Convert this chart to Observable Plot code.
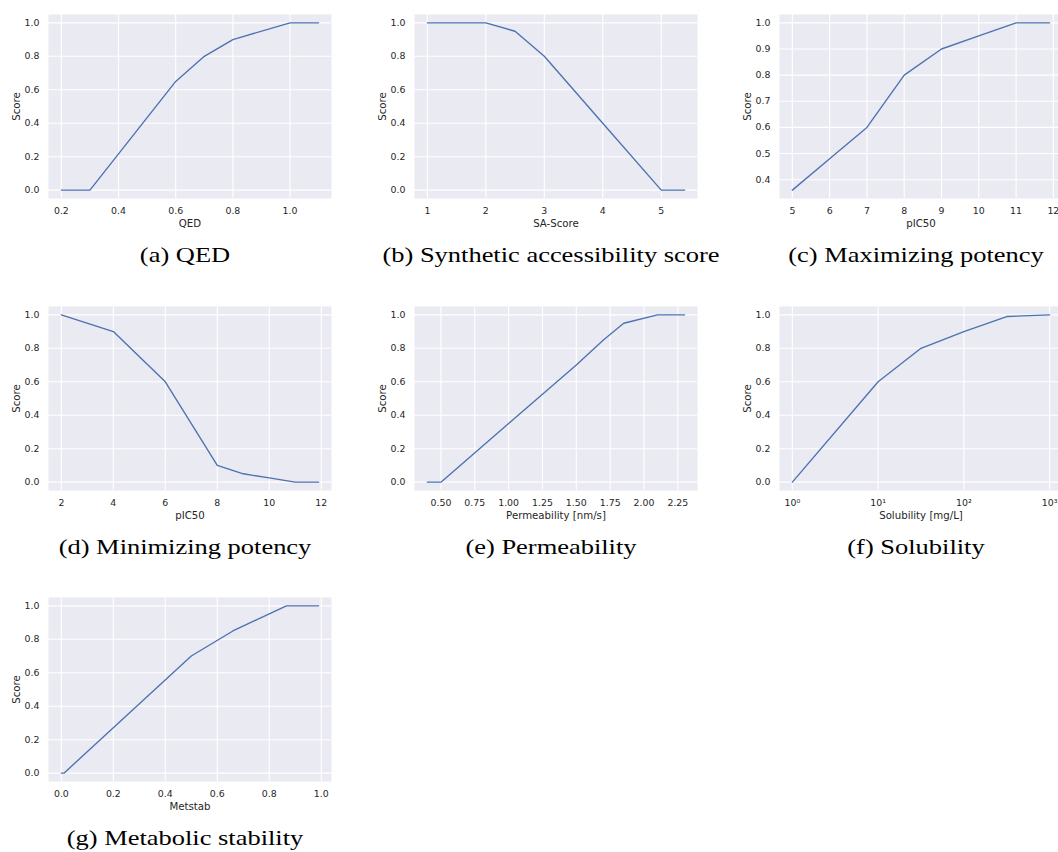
<!DOCTYPE html>
<html>
<head>
<meta charset="utf-8">
<script src="https://cdn.jsdelivr.net/npm/d3@7"></script>
<script src="https://cdn.jsdelivr.net/npm/@observablehq/plot@0.6"></script>
<style>
  html, body { margin: 0; padding: 0; background: #fff; }
  body { width: 1058px; height: 852px; overflow: hidden; position: relative; }
  #root { position: relative; width: 1058px; height: 852px; overflow: hidden; }
  .panel { position: absolute; }
  .panel svg { overflow: visible; max-width: none !important; display: block; }
  .cap {
    position: absolute; white-space: nowrap; color: #000;
    font-family: "Liberation Serif", serif; font-size: 21.5px; line-height: 1;
    transform-origin: 50% 50%; transform: translateX(-50%) scaleX(1.23);
  }
</style>
</head>
<body>
<div id="root"></div>
<script>
// ---------------- data ----------------
const scoreTicks = [0, 0.2, 0.4, 0.6, 0.8, 1.0];

const qedX = [0.2, 0.3, 0.6, 0.7, 0.8, 1.0, 1.1];
const qedScore = [0, 0, 0.65, 0.8, 0.9, 1.0, 1.0];
const qedTicks = [0.2, 0.4, 0.6, 0.8, 1.0];

const saX = [1, 2, 2.5, 3, 4, 5, 5.4];
const saScore = [1, 1, 0.95, 0.8, 0.4, 0, 0];
const saTicks = [1, 2, 3, 4, 5];

const maxPotX = [5, 6, 7, 8, 9, 10, 11, 11.9];
const maxPotScore = [0.36, 0.48, 0.6, 0.8, 0.9, 0.95, 1.0, 1.0];
const maxPotTicks = [5, 6, 7, 8, 9, 10, 11, 12];
const maxPotScoreTicks = [0.4, 0.5, 0.6, 0.7, 0.8, 0.9, 1.0];

const minPotX = [2, 4, 6, 8, 9, 10, 11, 11.9];
const minPotScore = [1.0, 0.9, 0.6, 0.1, 0.05, 0.025, 0, 0];
const minPotTicks = [2, 4, 6, 8, 10, 12];

const permX = [0.4, 0.5, 1.0, 1.5, 1.7, 1.85, 2.1, 2.3];
const permScore = [0, 0, 0.35, 0.7, 0.85, 0.95, 1.0, 1.0];
const permTicks = [0.5, 0.75, 1.0, 1.25, 1.5, 1.75, 2.0, 2.25];

const solX = [1, 10, 31.6, 100, 316, 1000];
const solScore = [0, 0.6, 0.8, 0.9, 0.99, 1.0];
const solTicks = [1, 10, 100, 1000];

const metX = [0, 0.01, 0.5, 0.66, 0.866, 0.99];
const metScore = [0, 0, 0.7, 0.85, 1.0, 1.0];
const metTicks = [0, 0.2, 0.4, 0.6, 0.8, 1.0];

const captions = ["(a) QED", "(b) Synthetic accessibility score", "(c) Maximizing potency",
  "(d) Minimizing potency", "(e) Permeability", "(f) Solubility", "(g) Metabolic stability"];

// ---------------- layout ----------------
const colLeft = [47.7, 413.6, 778.8];
const rowTop = [14, 305.6, 597];
const capBaseline = [263.3, 555.3, 846.4];
const capCenterShift = -4.5;
const FW = 283, FH = 184;
const mL = 50, mR = 10, mT = 6, mB = 40;

const sup = {"0": "\u2070", "1": "\u00b9", "2": "\u00b2", "3": "\u00b3"};
const f1 = d3.format(".1f"), f2 = d3.format(".2f"), fd = d3.format("d");
const logFmt = d => "10" + String(Math.round(Math.log10(d))).split("").map(c => sup[c]).join("");

const specs = [
  {xs: qedX, ys: qedScore, xTicks: qedTicks, yTicks: scoreTicks, xFmt: f1, xLabel: "QED"},
  {xs: saX, ys: saScore, xTicks: saTicks, yTicks: scoreTicks, xFmt: fd, xLabel: "SA-Score"},
  {xs: maxPotX, ys: maxPotScore, xTicks: maxPotTicks, yTicks: maxPotScoreTicks, xFmt: fd, xLabel: "pIC50"},
  {xs: minPotX, ys: minPotScore, xTicks: minPotTicks, yTicks: scoreTicks, xFmt: fd, xLabel: "pIC50"},
  {xs: permX, ys: permScore, xTicks: permTicks, yTicks: scoreTicks, xFmt: f2, xLabel: "Permeability [nm/s]"},
  {xs: solX, ys: solScore, xTicks: solTicks, yTicks: scoreTicks, xFmt: logFmt, xLabel: "Solubility [mg/L]", log: true},
  {xs: metX, ys: metScore, xTicks: metTicks, yTicks: scoreTicks, xFmt: f1, xLabel: "Metstab"}
];

function padDomain(vals, log) {
  const t = log ? vals.map(Math.log10) : vals;
  const lo = d3.min(t), hi = d3.max(t), p = (hi - lo) * 0.05;
  const d = [lo - p, hi + p];
  return log ? d.map(v => Math.pow(10, v)) : d;
}

const root = document.getElementById("root");
const textColor = "#262626";
const W = mL + FW + mR, H = mT + FH + mB;

specs.forEach((s, i) => {
  const col = i % 3, row = Math.floor(i / 3);
  const data = s.xs.map((x, k) => ({x, y: s.ys[k]}));
  const chart = Plot.plot({
    width: W,
    height: H,
    marginLeft: mL, marginRight: mR, marginTop: mT, marginBottom: mB,
    style: {fontFamily: "DejaVu Sans", fontSize: "9.4px", color: textColor, background: "none", overflow: "visible", maxWidth: "none"},
    x: {type: s.log ? "log" : "linear", domain: padDomain(s.xs, s.log)},
    y: {domain: padDomain(s.ys, false)},
    marks: [
      Plot.frame({fill: "#eaeaf2", stroke: null}),
      Plot.gridX(s.xTicks, {stroke: "#ffffff", strokeOpacity: 1, strokeWidth: 1.1}),
      Plot.gridY(s.yTicks, {stroke: "#ffffff", strokeOpacity: 1, strokeWidth: 1.1}),
      Plot.line(data, {x: "x", y: "y", stroke: "#4c72b0", strokeWidth: 1.35}),
      Plot.axisX(s.xTicks, {tickSize: 0, tickPadding: 9.2, tickFormat: s.xFmt, label: null, fill: textColor}),
      Plot.axisY(s.yTicks, {tickSize: 0, tickPadding: 9, tickFormat: f1, label: null, fill: textColor}),
      Plot.axisX([], {tickSize: 0, label: s.xLabel, labelAnchor: "center", labelArrow: "none", labelOffset: 28.8, fontSize: 10.2, fill: textColor}),
      Plot.axisY([], {tickSize: 0, label: "Score", labelAnchor: "center", labelArrow: "none", labelOffset: 35.3, fontSize: 10.2, fill: textColor})
    ]
  });
  chart.setAttribute("width", W);
  chart.setAttribute("height", H);
  chart.style.width = W + "px";
  chart.style.height = H + "px";
  chart.style.maxWidth = "none";
  const div = document.createElement("div");
  div.className = "panel";
  div.style.left = (colLeft[col] - mL) + "px";
  div.style.top = (rowTop[row] - mT) + "px";
  div.style.width = W + "px";
  div.style.height = H + "px";
  div.appendChild(chart);
  root.appendChild(div);

  const cap = document.createElement("div");
  cap.className = "cap";
  cap.textContent = captions[i];
  const fs = 21.5;
  cap.style.left = (colLeft[col] + FW / 2 + capCenterShift) + "px";
  cap.style.top = (capBaseline[row] - 0.8375 * fs) + "px";
  root.appendChild(cap);
});
</script>
</body>
</html>
